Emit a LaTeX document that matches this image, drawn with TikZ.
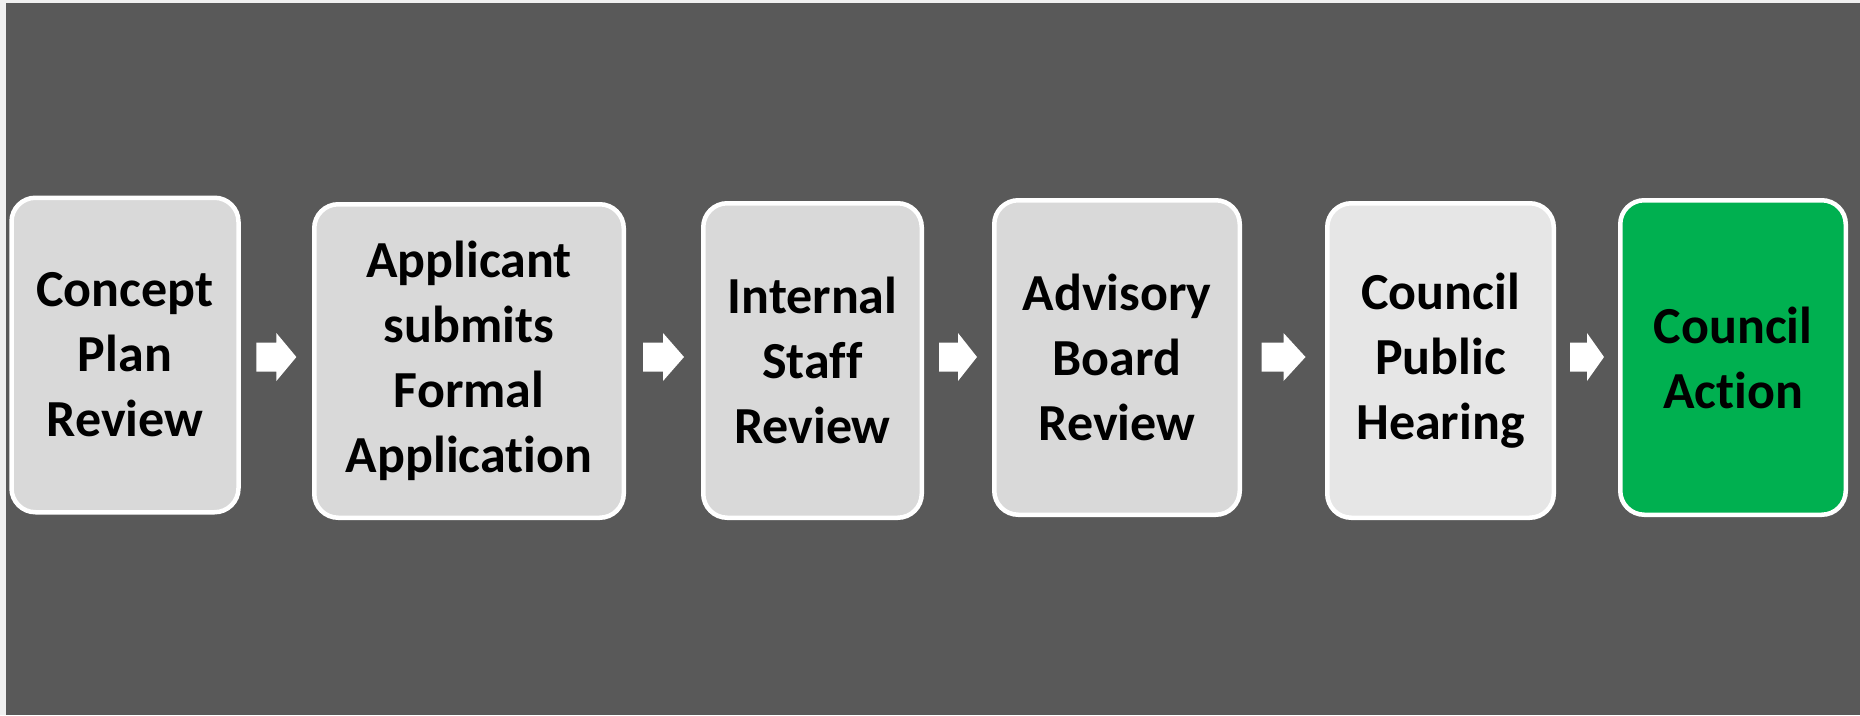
\documentclass[tikz,border=0pt]{standalone}
\usepackage{fontspec}
\setmainfont{Carlito}[Ligatures={NoCommon}]
\usetikzlibrary{calc}
\definecolor{bgdark}{HTML}{595959}
\definecolor{bglight}{HTML}{F0F0F0}
\definecolor{boxgray}{HTML}{D9D9D9}
\definecolor{boxlight}{HTML}{E6E6E6}
\definecolor{actgreen}{HTML}{00B050}
\newcommand\blockarrow[4]{%
  \coordinate (m#1) at ($(#1.east)!0.5!(#2.west)$);
  \coordinate (a#1) at (m#1 |- 0,357);
  \begin{scope}[shift={(a#1)}]
    \fill[flowarrow] ({-(#3+#4)/2},-14.5) -- ({(#3-#4)/2},-14.5) -- ({(#3-#4)/2},-24)
      -- ({(#3+#4)/2},0) -- ({(#3-#4)/2},24) -- ({(#3-#4)/2},14.5) -- ({-(#3+#4)/2},14.5) -- cycle;
  \end{scope}}
\begin{document}
\begin{tikzpicture}[x=1pt,y=-1pt,
  stepbox/.style={draw=white, line width=4.5pt, rounded corners=24pt, fill=boxgray,
    align=center, font=\fontsize{52}{65}\selectfont\bfseries, inner sep=0pt, text=black},
  flowarrow/.style={fill=white}]
\fill[bglight] (0,0) rectangle (1860,715);
\fill[bgdark] (6,3) rectangle (1860,715);
\useasboundingbox (0,0) rectangle (1860,715);

\node[stepbox, minimum width=227pt, minimum height=314.5pt] (b1) at (125,355) {Concept\\Plan\\Review};
\node[stepbox, minimum width=309.5pt, minimum height=313.5pt] (b2) at (469,361) {Applicant\\submits\\Formal\\Application};
\node[stepbox, minimum width=218.5pt, minimum height=314.5pt] (b3) at (812.5,360.5) {Internal\\Staff\\Review};
\node[stepbox, minimum width=245.5pt, minimum height=314.5pt] (b4) at (1117,357.5) {Advisory\\Board\\Review};
\node[stepbox, fill=boxlight, minimum width=226.5pt, minimum height=314.5pt] (b5) at (1440.5,360.5) {Council\\Public\\Hearing};
\node[stepbox, fill=actgreen, minimum width=225.5pt, minimum height=314.5pt] (b6) at (1733,357.5) {Council\\Action};

\blockarrow{b1}{b2}{20}{20}
\blockarrow{b2}{b3}{20}{21}
\blockarrow{b3}{b4}{19}{19}
\blockarrow{b4}{b5}{22}{22}
\blockarrow{b5}{b6}{17}{17}
\end{tikzpicture}
\end{document}
